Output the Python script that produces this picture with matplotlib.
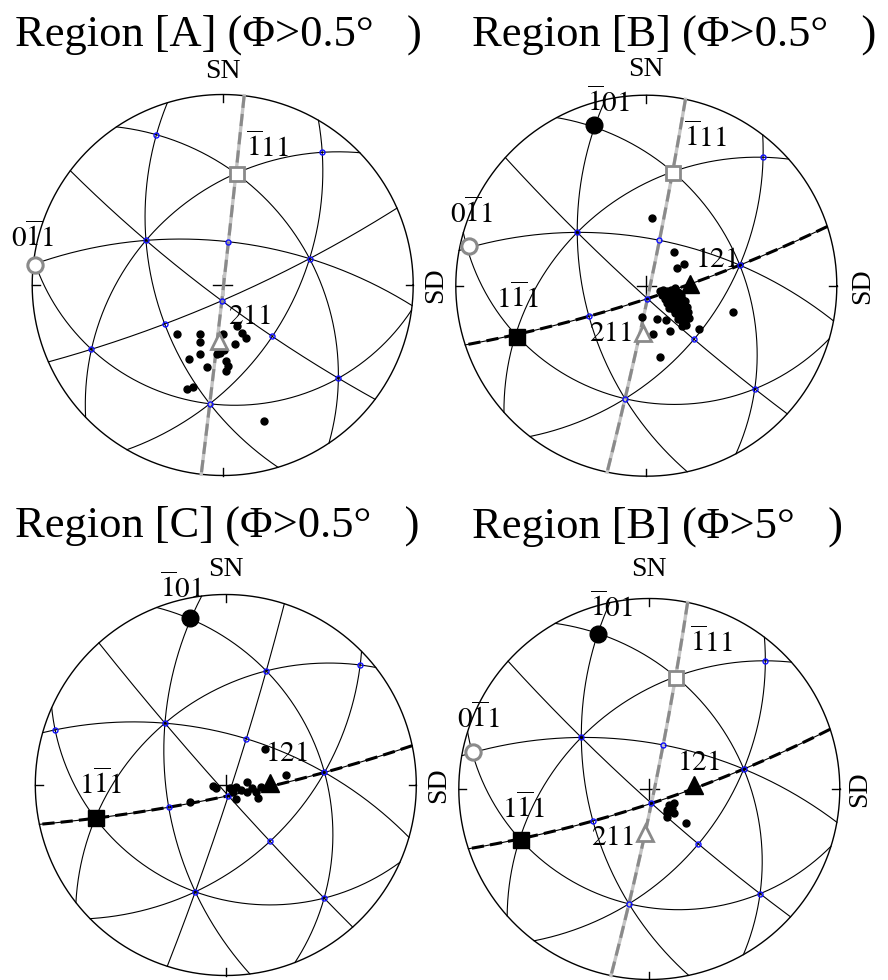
import numpy as np
import matplotlib.pyplot as plt

plt.rcParams['font.family'] = ['Liberation Serif', 'DejaVu Serif']
plt.rcParams['mathtext.fontset'] = 'stix'

W, H = 888, 980

titles = ['Region [A] (Φ>0.5°   )', 'Region [B] (Φ>0.5°   )',
          'Region [C] (Φ>0.5°   )', 'Region [B] (Φ>5°   )']

# labelled poles (stereographic coords, unit primitive)
marks_A = {'0-11': (-0.984, 0.105), '-111': (0.077, 0.584), '211': (-0.019, -0.293)}
marks_B = {'-101': (-0.277, 0.842), '-111': (0.141, 0.589), '0-11': (-0.930, 0.206),
           '1-11': (-0.677, -0.268), '121': (0.229, 0.010), '211': (-0.018, -0.250)}
marks_C = {'-101': (-0.189, 0.876), '1-11': (-0.680, -0.175), '121': (0.231, 0.009)}
marks_D = {'-101': (-0.268, 0.814), '-111': (0.141, 0.582), '0-11': (-0.927, 0.195),
           '1-11': (-0.671, -0.267), '121': (0.235, 0.021), '211': (-0.024, -0.232)}

ref_A = {'001': (-0.405, 0.236), '010': (0.454, 0.140), '100': (-0.067, -0.625)}
ref_B = {'010': (0.487, 0.110), '111': (0.004, -0.069), '101': (-0.303, -0.157)}
ref_C = {'010': (0.517, 0.061), '111': (0.012, -0.058)}
ref_D = {'010': (0.491, 0.108), '111': (0.010, -0.071), '101': (-0.298, -0.166)}

# measured orientations
dots_A_u = [-0.238, -0.119, -0.119, 0.000, 0.077, 0.100, 0.122, 0.065, 0.007, -0.014,
            -0.031, -0.178, -0.119, 0.017, 0.026, 0.017, -0.081, -0.189, -0.154, 0.218]
dots_A_v = [-0.257, -0.259, -0.299, -0.257, -0.215, -0.250, -0.280, -0.311, -0.341, -0.355,
            -0.362, -0.390, -0.364, -0.399, -0.425, -0.451, -0.432, -0.548, -0.534, -0.714]

dots_B_u = [0.032, 0.146, 0.163, 0.200, 0.151, 0.455, -0.021, 0.055, 0.102, 0.279, 0.125, 0.037, 0.072,
            0.07, 0.09, 0.11, 0.13, 0.085, 0.105, 0.125, 0.145, 0.165, 0.18, 0.10, 0.12, 0.14, 0.16,
            0.19, 0.205, 0.11, 0.13, 0.15, 0.17, 0.195, 0.215, 0.12, 0.14, 0.16, 0.18, 0.20, 0.22,
            0.15, 0.17, 0.19, 0.21, 0.225, 0.165, 0.185, 0.205, 0.19, 0.21]
dots_B_v = [0.355, 0.179, 0.095, 0.113, -0.014, -0.137, -0.163, -0.175, -0.181, -0.228, -0.239, -0.251, -0.374,
            -0.03, -0.02, -0.03, -0.02, -0.05, -0.05, -0.045, -0.04, -0.035, -0.05, -0.07, -0.07, -0.065, -0.06,
            -0.07, -0.08, -0.09, -0.095, -0.09, -0.085, -0.10, -0.11, -0.115, -0.12, -0.115, -0.125, -0.13, -0.14,
            -0.145, -0.15, -0.155, -0.16, -0.17, -0.175, -0.185, -0.19, -0.21, -0.205]

dots_C_u = [0.208, 0.315, -0.067, -0.049, -0.189, 0.109, 0.056, 0.082, 0.109, 0.135, 0.161, 0.170,
            0.056, 0.039, 0.187, 0.021]
dots_C_v = [0.189, 0.053, -0.005, -0.014, -0.088, 0.018, -0.009, -0.026, -0.035, -0.018, -0.035, -0.070,
            -0.075, -0.035, -0.009, -0.018]

dots_D_u = [0.129, 0.120, 0.111, 0.094, 0.094, 0.129, 0.195, 0.103, 0.091]
dots_D_v = [-0.075, -0.101, -0.118, -0.110, -0.145, -0.127, -0.179, -0.084, -0.127]

# slip plane traces drawn dashed in each panel
traces_A = ['0-11']
traces_B = ['0-11', '-101']
traces_C = ['-101']
traces_D = ['0-11', '-101']

GRAY = '#8a8a8a'
mark_style = {
    '0-11': dict(marker='o', ms=11, mfc='white', mec=GRAY, mew=2.2),
    '-111': dict(marker='s', ms=10, mfc='white', mec=GRAY, mew=2.0),
    '211': dict(marker='^', ms=11, mfc='white', mec=GRAY, mew=2.0),
    '-101': dict(marker='o', ms=12, mfc='black', mec='black', mew=1),
    '1-11': dict(marker='s', ms=12, mfc='black', mec='black', mew=1),
    '121': dict(marker='^', ms=13, mfc='black', mec='black', mew=1),
}
trace_style = {'0-11': GRAY, '-101': 'black'}

# layout in pixels: centre, title x/baseline, SN baseline gap, SD gap, label offsets
panels = [
    dict(c=(222.7, 285.0), title=(15, 46), sn=17, sd=22,
         marks=marks_A, ref=ref_A, du=dots_A_u, dv=dots_A_v, traces=traces_A,
         lab={'-111': (9, 17, 'left'), '0-11': (-24, 18, 'left'), '211': (9, 17, 'left')}),
    dict(c=(646.3, 285.7), title=(472, 46), sn=19, sd=26,
         marks=marks_B, ref=ref_B, du=dots_B_u, dv=dots_B_v, traces=traces_B,
         lab={'-101': (-7, 13, 'left'), '-111': (11, 26, 'left'), '0-11': (-19, 23, 'left'),
              '1-11': (-21, 29, 'left'), '121': (5, 17, 'left'), '211': (-11, -8, 'right')}),
    dict(c=(225.8, 785.0), title=(15, 537), sn=19, sd=22,
         marks=marks_C, ref=ref_C, du=dots_C_u, dv=dots_C_v, traces=traces_C,
         lab={'-101': (-30, 20, 'left'), '121': (-5, 22, 'left'), '1-11': (-17, 24, 'left')}),
    dict(c=(649.3, 789.0), title=(472, 538), sn=23, sd=20,
         marks=marks_D, ref=ref_D, du=dots_D_u, dv=dots_D_v, traces=traces_D,
         lab={'-101': (-8, 17, 'left'), '-111': (14, 26, 'left'), '0-11': (-16, 24, 'left'),
              '1-11': (-19, 22, 'left'), '121': (-17, 15, 'left'), '211': (-11, -12, 'right')}),
]
RPX = 190.5
LIM = 1.15


def hkl(s):
    out, i = [], 0
    while i < len(s):
        if s[i] == '-':
            out.append(-int(s[i + 1]))
            i += 2
        else:
            out.append(int(s[i]))
            i += 1
    return np.array(out, float)


def hkl_tex(s):
    out, i = '', 0
    while i < len(s):
        if s[i] == '-':
            out += r'\overline{%s}' % s[i + 1]
            i += 2
        else:
            out += s[i]
            i += 1
    return '$' + out + '$'


def inv_proj(u, v):
    r2 = u * u + v * v
    return np.array([2 * u, 2 * v, 1 - r2]) / (1 + r2)


def proj(p):
    return p[..., 0] / (1 + p[..., 2]), p[..., 1] / (1 + p[..., 2])


def fit_orientation(readings):
    # Kabsch fit of crystal -> sample rotation
    M = np.zeros((3, 3))
    for key, (u, v) in readings.items():
        c = hkl(key)
        M += np.outer(inv_proj(u, v), c / np.linalg.norm(c))
    U, _, Vt = np.linalg.svd(M)
    d = np.sign(np.linalg.det(U @ Vt))
    return U @ np.diag([1, 1, d]) @ Vt


def great_circle(n):
    n = n / np.linalg.norm(n)
    e1 = np.cross(n, [0, 0, 1.0])
    if np.linalg.norm(e1) < 1e-9:
        e1 = np.array([1.0, 0, 0])
    e1 /= np.linalg.norm(e1)
    e2 = np.cross(n, e1)
    if e2[2] < 0:
        e2 = -e2
    t = np.linspace(0, np.pi, 500)
    p = np.outer(np.cos(t), e1) + np.outer(np.sin(t), e2)
    return proj(p)


mirror_planes = ['100', '010', '001', '110', '1-10', '101', '10-1', '011', '01-1']
axes_dirs = ['100', '010', '001', '110', '1-10', '101', '10-1', '011', '01-1',
             '111', '-111', '1-11', '11-1']

fig = plt.figure(figsize=(W / 100, H / 100), dpi=100)

for i, p in enumerate(panels):
    cx, cy = p['c']
    ax = fig.add_axes([(cx - LIM * RPX) / W, (H - cy - LIM * RPX) / H,
                       2 * LIM * RPX / W, 2 * LIM * RPX / H])
    ax.set_xlim(-LIM, LIM)
    ax.set_ylim(-LIM, LIM)
    ax.axis('off')

    fit = {k: v for k, v in p['marks'].items() if k not in ('121', '211')}
    fit.update(p['ref'])
    Rm = fit_orientation(fit)

    # primitive circle, ticks and centre cross
    t = np.linspace(0, 2 * np.pi, 721)
    ax.plot(np.cos(t), np.sin(t), color='black', lw=1.0, zorder=1)
    tk = 0.04
    for a, b in [((0, 0), (1, 1 - tk)), ((0, 0), (-1, -1 + tk)),
                 ((1, 1 - tk), (0, 0)), ((-1, -1 + tk), (0, 0))]:
        ax.plot(a, b, color='black', lw=1.0, zorder=1)
    ax.plot([-0.05, 0.05], [0, 0], color='black', lw=1.0, zorder=1)
    ax.plot([0, 0], [-0.05, 0.05], color='black', lw=1.0, zorder=1)

    # mirror plane traces
    for pl in mirror_planes:
        x, y = great_circle(Rm @ hkl(pl))
        ax.plot(x, y, color='black', lw=0.8, zorder=1)

    # slip plane traces
    for pl in p['traces']:
        x, y = great_circle(Rm @ hkl(pl))
        col = trace_style[pl]
        if col == GRAY:
            ax.plot(x, y, color='#c4c4c4', lw=2.4, zorder=2)
        ax.plot(x, y, color=col, lw=2.2, ls=(0, (4, 2)), zorder=2)

    # low index poles
    for d in axes_dirs:
        s = Rm @ hkl(d)
        s /= np.linalg.norm(s)
        if s[2] < 0:
            s = -s
        x, y = proj(s)
        ax.plot(x, y, marker='o', ms=3.6, mfc='none', mec='#1010ff', mew=1.0, zorder=3)

    # measured orientations
    ax.plot(p['du'], p['dv'], ls='none', marker='o', ms=5, color='black', zorder=4)

    # labelled slip system poles
    for k, (u, v) in p['marks'].items():
        ax.plot([u], [v], ls='none', zorder=5, **mark_style[k])
        dx, dy, ha = p['lab'][k]
        ax.annotate(hkl_tex(k), (u, v), xytext=(dx, dy), textcoords='offset pixels',
                    ha=ha, va='baseline', fontsize=21, zorder=6)

    ax.text(0, 1 + p['sn'] / RPX, 'SN', ha='center', va='baseline', fontsize=20)
    ax.text(1 + p['sd'] / RPX, 0, 'SD', ha='center', va='center', fontsize=20, rotation=90)

    tx, ty = p['title']
    fig.text(tx / W, 1 - ty / H, titles[i], ha='left', va='baseline', fontsize=32)

fig.savefig('out.png', dpi=100)
